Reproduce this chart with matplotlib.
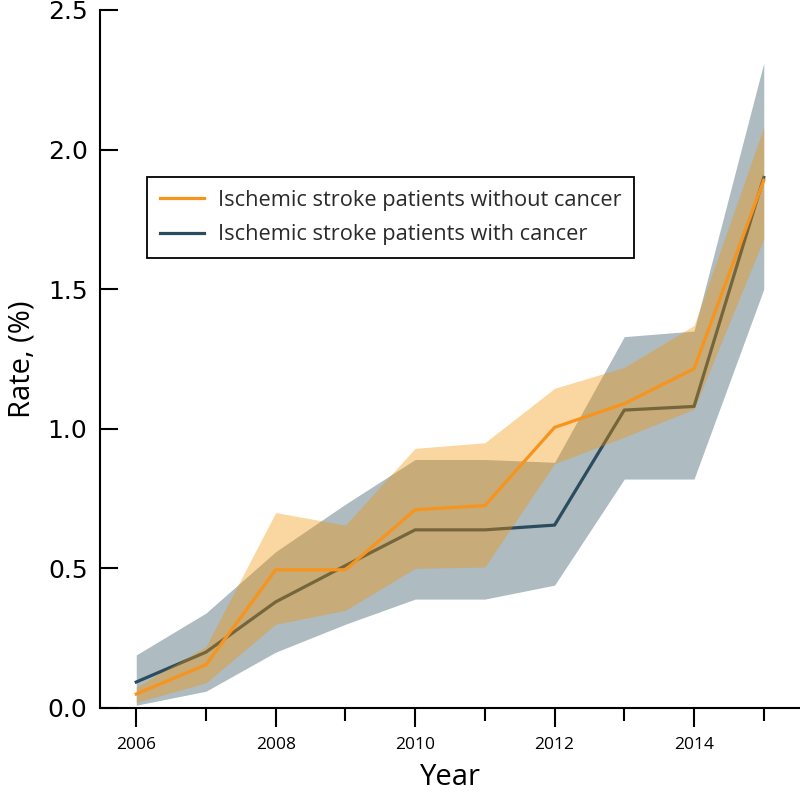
import matplotlib.pyplot as plt
import numpy as np

years = [2006, 2007, 2008, 2009, 2010, 2011, 2012, 2013, 2014, 2015]

# ischemic stroke patients without cancer
rate_no_cancer = [0.05, 0.155, 0.495, 0.495, 0.71, 0.725, 1.005, 1.09, 1.215, 1.89]
lo_no_cancer = [0.02, 0.09, 0.30, 0.35, 0.50, 0.505, 0.875, 0.97, 1.07, 1.68]
hi_no_cancer = [0.075, 0.22, 0.70, 0.655, 0.93, 0.95, 1.145, 1.22, 1.37, 2.08]

# ischemic stroke patients with cancer
rate_cancer = [0.093, 0.20, 0.38, 0.51, 0.638, 0.638, 0.655, 1.067, 1.08, 1.90]
lo_cancer = [0.01, 0.06, 0.20, 0.30, 0.39, 0.39, 0.44, 0.82, 0.82, 1.50]
hi_cancer = [0.19, 0.34, 0.56, 0.73, 0.89, 0.89, 0.88, 1.33, 1.35, 2.31]

orange = '#F7941D'
navy = '#2B4C5E'

fig = plt.figure(figsize=(8, 7.98), dpi=100)
ax = fig.add_axes([0.125, 0.1128, 0.875, 0.8747])

ax.fill_between(years, lo_cancer, hi_cancer, color=navy, alpha=0.38, lw=0, zorder=1)
ax.plot(years, rate_cancer, color=navy, lw=2.3, zorder=2,
        label='Ischemic stroke patients with cancer')
ax.fill_between(years, lo_no_cancer, hi_no_cancer, color='#F39200', alpha=0.37, lw=0, zorder=3)
ax.plot(years, rate_no_cancer, color=orange, lw=2.3, zorder=4,
        label='Ischemic stroke patients without cancer')

ax.set_xlim(2005.48, 2015.52)
ax.set_ylim(0, 2.5)

ax.spines['top'].set_visible(False)
ax.spines['right'].set_visible(False)
ax.spines['left'].set_linewidth(1.5)
ax.spines['bottom'].set_linewidth(1.5)

ax.set_yticks([0, 0.5, 1.0, 1.5, 2.0, 2.5])
ax.set_yticklabels(['0.0', '0.5', '1.0', '1.5', '2.0', '2.5'],
                   fontfamily='DejaVu Sans', fontsize=18)
ax.tick_params(axis='y', direction='in', length=13, width=1.5, pad=9)

ax.set_xticks([2006, 2008, 2010, 2012, 2014])
ax.set_xticks([2007, 2009, 2011, 2013, 2015], minor=True)
ax.set_xticklabels(['2006', '2008', '2010', '2012', '2014'],
                   fontfamily='Open Sans', fontsize=12.5)
ax.tick_params(axis='x', which='major', direction='out', length=14, width=1.5, pad=7)
ax.tick_params(axis='x', which='minor', direction='out', length=9, width=1.5)

ax.set_xlabel('Year', fontfamily='Open Sans', fontsize=21, labelpad=7)
ax.set_ylabel('Rate, (%)', fontfamily='Open Sans', fontsize=21, labelpad=8)

handles, labels = ax.get_legend_handles_labels()
leg = ax.legend(handles[::-1], labels[::-1], loc='upper left',
                bbox_to_anchor=(0.067, 0.761), borderaxespad=0,
                prop={'family': 'Open Sans', 'size': 15.7},
                fancybox=False, edgecolor='black', framealpha=1,
                handlelength=2.0, handletextpad=0.65, labelspacing=0.62,
                borderpad=0.6)
leg.get_frame().set_linewidth(1.3)
for t in leg.get_texts():
    t.set_color('#2a2a2a')

fig.savefig('out.png', dpi=100)
